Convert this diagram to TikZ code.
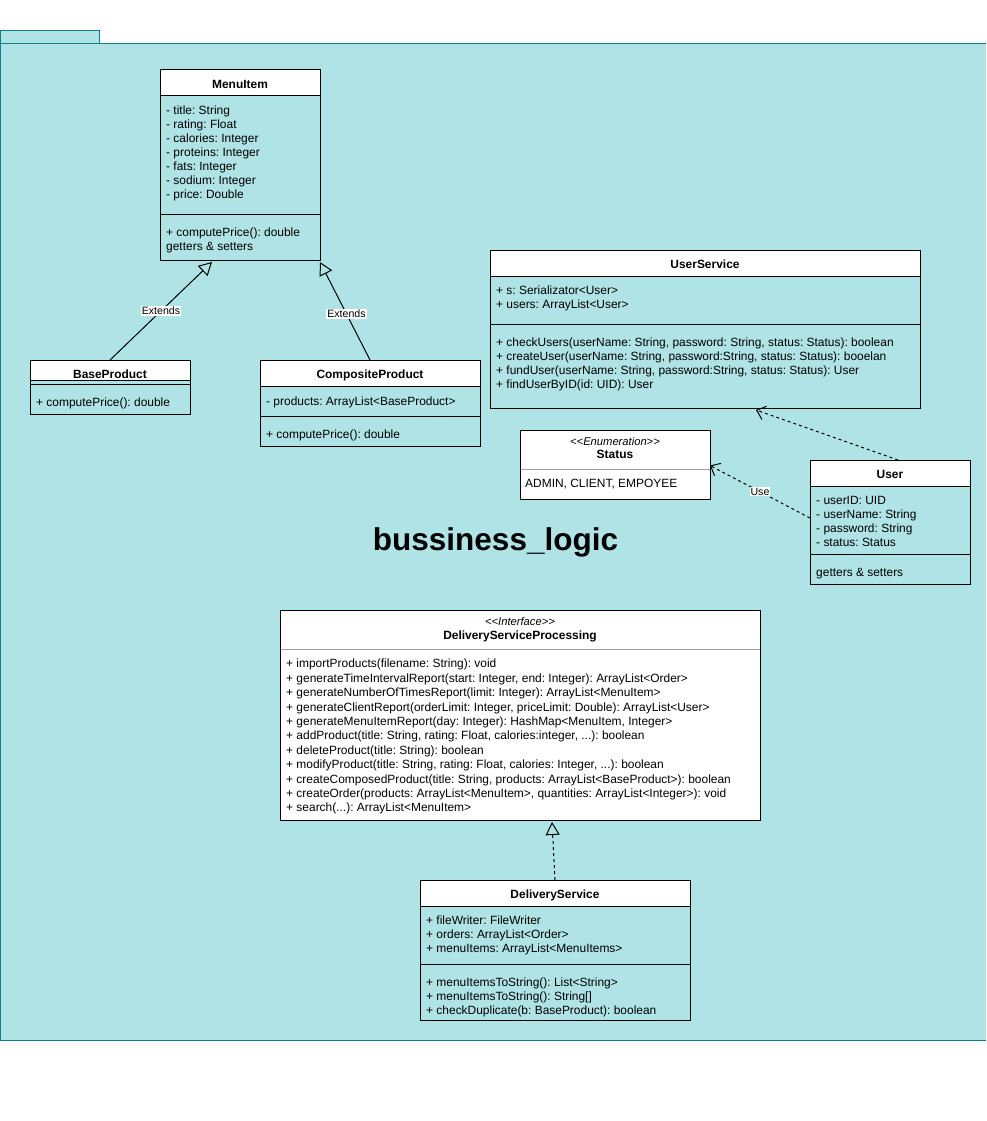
\documentclass[tikz,border=0pt]{standalone}
\usepackage{fontspec}
\setmainfont{Liberation Sans}
\usetikzlibrary{arrows.meta,calc}
\definecolor{pkgfill}{HTML}{B0E3E6}
\definecolor{pkgline}{HTML}{0E8088}
\definecolor{sepgray}{HTML}{A0A0A0}
\newcommand\ufs{\fontsize{11.95}{14}\selectfont}
\newcommand\ufsb{\fontsize{11.95}{14.4}\selectfont}
\newcommand\lblfs{\fontsize{10.6}{12}\selectfont}
\newcommand\dlt{{<}\kern0pt{<}}
\newcommand\dgt{{>}\kern0pt{>}}
\frenchspacing
\begin{document}
\frenchspacing
\begin{tikzpicture}[x=1pt,y=-1pt,
  cls/.style={draw=black, fill=pkgfill, line width=1pt, anchor=north west, inner sep=0pt, outer sep=0pt},
  hdr/.style={draw=black, fill=white, line width=1pt},
  sepline/.style={draw=black, line width=1pt},
  graysep/.style={draw=sepgray, line width=1pt},
  txt/.style={anchor=north west, inner sep=0pt, align=left, font=\ufs},
  txtb/.style={anchor=north west, inner sep=0pt, align=left, font=\ufsb},
  ttl/.style={anchor=base, inner sep=0pt, font=\ufs\bfseries},
  stereo/.style={anchor=base, inner sep=0pt, font=\fontsize{11.2}{13}\selectfont\itshape},
  lbl/.style={fill=white, inner sep=1pt, font=\lblfs},
  ext/.style={draw=black, line width=1pt, -{Triangle[open, length=13pt, width=14pt, line width=1pt]}},
  usedep/.style={draw=black, line width=1pt, dash pattern=on 3pt off 3pt, -{Straight Barb[length=8pt, width=14pt, line width=1pt]}},
  realize/.style={draw=black, line width=1pt, dash pattern=on 3pt off 3pt, -{Triangle[open, length=13pt, width=14pt, line width=1pt]}}
]
\useasboundingbox (0,0) rectangle (986,1121);
\fill[white] (0,0) rectangle (986,1121);
% package
\fill[pkgfill] (0.5,44) rectangle (986,1040);
\draw[pkgline, line width=1pt] (986,44) -- (0.5,44) -- (0.5,1040) -- (986,1040);
\draw[pkgline, fill=pkgfill, line width=1pt] (0.5,31) rectangle (99,44);
\node[anchor=base, inner sep=0pt, font=\fontsize{31.5}{36}\selectfont\bfseries] (pkgname) at (495.5,550) {bussiness\_logic};

% MenuItem
\node[cls, minimum width=160pt, minimum height=190pt] (menu) at (160,70) {};
\draw[hdr] (menu.north west) rectangle ++(160,26);
\draw[sepline] (160,214) -- (320,214);
\node[ttl] (menut) at (240,88.3) {MenuItem};
\node[txt] (menua) at (166,104.5) {\strut- title: String\\- rating: Float\\- calories: Integer\\- proteins: Integer\\- fats: Integer\\- sodium: Integer\\- price: Double};
\node[txt] (menum) at (166,226.5) {\strut+ computePrice(): double\\getters \& setters};

% BaseProduct
\node[cls, minimum width=160pt, minimum height=54pt] (bp) at (30,360) {};
\draw[hdr] (bp.north west) rectangle ++(160,20.5);
\draw[sepline] (30,384.5) -- (190,384.5);
\node[ttl] (bpt) at (110,378.3) {BaseProduct};
\node[txt] (bpm) at (36,396.5) {\strut+ computePrice(): double};

% CompositeProduct
\node[cls, minimum width=220pt, minimum height=86pt] (cp) at (260,360) {};
\draw[hdr] (cp.north west) rectangle ++(220,26);
\draw[sepline] (260,416) -- (480,416);
\node[ttl] (cpt) at (370,378.3) {CompositeProduct};
\node[txt] (cpa) at (266,395) {\strut- products: ArrayList<BaseProduct>};
\node[txt] (cpm) at (266,428.5) {\strut+ computePrice(): double};

% UserService
\node[cls, minimum width=430pt, minimum height=158pt] (us) at (490,250) {};
\draw[hdr] (us.north west) rectangle ++(430,26);
\draw[sepline] (490,324) -- (920,324);
\node[ttl] (ust) at (705,268.3) {UserService};
\node[txt] (usa) at (496,284.5) {\strut+ s: Serializator<User>\\+ users: ArrayList<User>};
\node[txt] (usm) at (496,336.5) {\strut+ checkUsers(userName: String, password: String, status: Status): boolean\\+ createUser(userName: String, password:String, status: Status): booelan\\+ fundUser(userName: String, password:String, status: Status): User\\+ findUserByID(id: UID): User};

% Status
\node[cls, fill=white, minimum width=190pt, minimum height=69pt] (st) at (520,430) {};
\draw[graysep] (520.5,469.3) -- (709.5,469.3);
\node[stereo] (sts) at (615,445) {\dlt Enumeration\dgt};
\node[ttl] (stt) at (615,458.6) {Status};
\node[txt] (stv) at (525,477.5) {\strut ADMIN, CLIENT, EMPOYEE};

% User
\node[cls, minimum width=160pt, minimum height=124pt] (user) at (810,460) {};
\draw[hdr] (user.north west) rectangle ++(160,26);
\draw[sepline] (810,554.3) -- (970,554.3);
\node[ttl] (usert) at (890,478.3) {User};
\node[txt] (usera) at (816,494.5) {\strut- userID: UID\\- userName: String\\- password: String\\- status: Status};
\node[txt] (userm) at (816,566.5) {\strut getters \& setters};

% DeliveryServiceProcessing
\node[cls, fill=white, minimum width=480pt, minimum height=210pt] (dsp) at (280,610) {};
\draw[graysep] (280.5,649.3) -- (759.5,649.3);
\node[stereo] (dsps) at (520,625) {\dlt Interface\dgt};
\node[ttl] (dspt) at (520,639) {DeliveryServiceProcessing};
\node[txtb] (dspm) at (286,657.7) {\strut+ importProducts(filename: String): void\\+ generateTimeIntervalReport(start: Integer, end: Integer): ArrayList<Order>\\+ generateNumberOfTimesReport(limit: Integer): ArrayList<MenuItem>\\+ generateClientReport(orderLimit: Integer, priceLimit: Double): ArrayList<User>\\+ generateMenuItemReport(day: Integer): HashMap<MenuItem, Integer>\\+ addProduct(title: String, rating: Float, calories:integer, ...): boolean\\+ deleteProduct(title: String): boolean\\+ modifyProduct(title: String, rating: Float, calories: Integer, ...): boolean\\+ createComposedProduct(title: String, products: ArrayList<BaseProduct>): boolean\\+ createOrder(products: ArrayList<MenuItem>, quantities: ArrayList<Integer>): void\\+ search(...): ArrayList<MenuItem>};

% DeliveryService
\node[cls, minimum width=270pt, minimum height=140pt] (ds) at (420,880) {};
\draw[hdr] (ds.north west) rectangle ++(270,26.5);
\draw[sepline] (420,964.3) -- (690,964.3);
\node[ttl] (dst) at (555,898.3) {DeliveryService};
\node[txt] (dsa) at (426,914.5) {\strut+ fileWriter: FileWriter\\+ orders: ArrayList<Order>\\+ menuItems: ArrayList<MenuItems>};
\node[txt] (dsm) at (426,976.5) {\strut+ menuItemsToString(): List<String>\\+ menuItemsToString(): String[]\\+ checkDuplicate(b: BaseProduct): boolean};

% connectors
\draw[ext] (bp.north) -- node[lbl, pos=0.5] (lext1) {Extends} ([xshift=-28pt,yshift=-2pt]menu.south);
\draw[ext] (cp.north) -- node[lbl, pos=0.47] (lext2) {Extends} ([yshift=-2pt]menu.south east);
\draw[usedep] ([xshift=8pt]user.north) -- ([xshift=51pt,yshift=-2pt]us.south);
\draw[usedep] ([yshift=4pt]user.west) -- node[lbl, pos=0.5] (luse) {Use} ([yshift=-1pt]st.east);
\draw[realize] ([xshift=35pt]dsp.south |- ds.north) -- ([xshift=32pt,yshift=-2pt]dsp.south);
\end{tikzpicture}
\end{document}
